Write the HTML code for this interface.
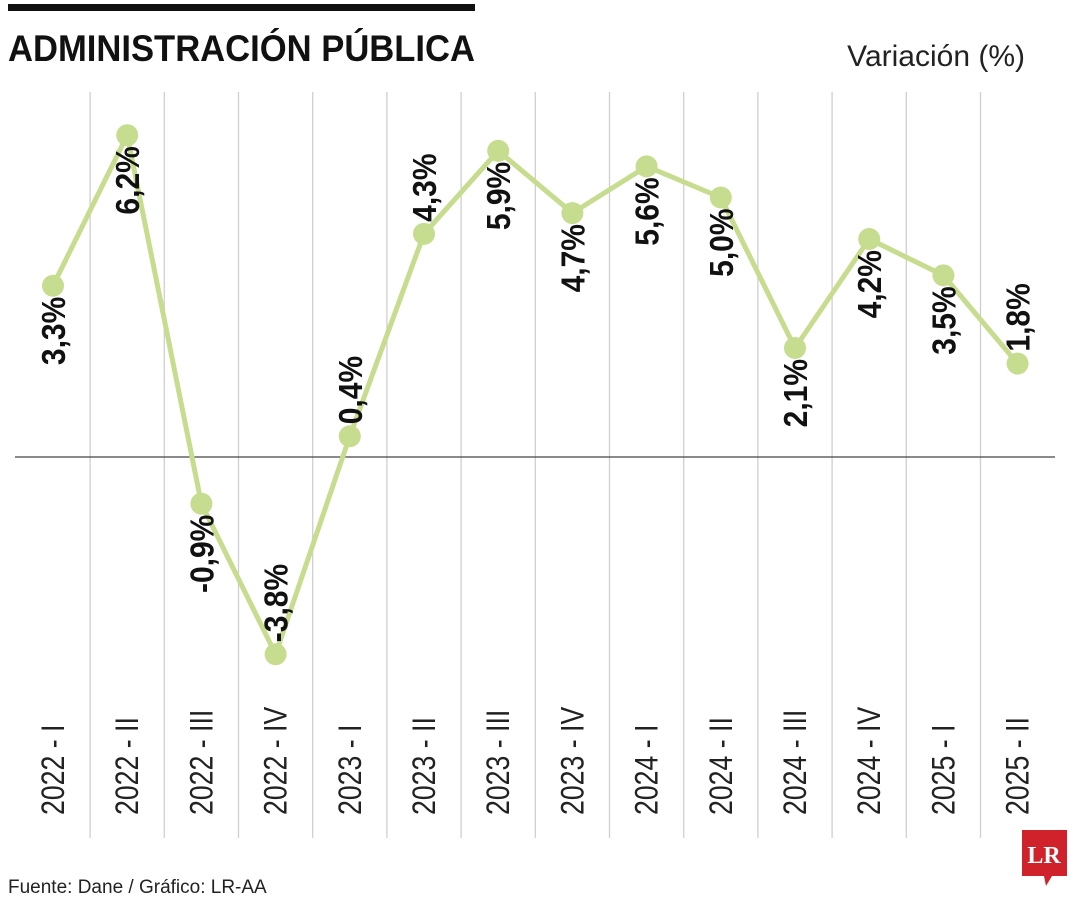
<!DOCTYPE html>
<html><head><meta charset="utf-8"><style>
body{margin:0;background:#fff;width:1080px;height:900px;overflow:hidden}
svg{display:block;font-family:"Liberation Sans Narrow","Liberation Sans",sans-serif}
</style></head><body>
<svg width="1080" height="900">
<rect x="8" y="4" width="467" height="7" fill="#111"/>
<text x="8" y="61" font-size="37" font-weight="bold" fill="#111" textLength="467" lengthAdjust="spacingAndGlyphs">ADMINISTRACIÓN PÚBLICA</text>
<text x="1025" y="66" font-size="30" fill="#222" text-anchor="end">Variación (%)</text>
<g id="grid"></g>
<g id="marks"></g>
<text x="8" y="893" font-size="19" fill="#222">Fuente: Dane / Gráfico: LR-AA</text>
<g>
<path d="M1022 830 H1067 V876 H1052 L1046 886 L1044 876 H1022 Z" fill="#d0222a"/>
<text x="1044" y="863" font-size="24" font-weight="bold" fill="#fff" text-anchor="middle" font-family="Liberation Serif,serif">LR</text>
</g>
</svg>
<script>
const categories=["2022 - I","2022 - II","2022 - III","2022 - IV","2023 - I","2023 - II","2023 - III","2023 - IV","2024 - I","2024 - II","2024 - III","2024 - IV","2025 - I","2025 - II"];
const values=[3.3,6.2,-0.9,-3.8,0.4,4.3,5.9,4.7,5.6,5.0,2.1,4.2,3.5,1.8];
const valueLabels=["3,3%","6,2%","-0,9%","-3,8%","0,4%","4,3%","5,9%","4,7%","5,6%","5,0%","2,1%","4,2%","3,5%","1,8%"];
const labelAbove=[false,false,false,true,true,true,false,false,false,false,false,false,false,true];
const NS="http://www.w3.org/2000/svg";
const x=i=>53+i*74.2;
const y=v=>457-v*51.9;
const grid=document.getElementById('grid'),marks=document.getElementById('marks');
function mk(tag,attrs,parent){const e=document.createElementNS(NS,tag);for(const k in attrs)e.setAttribute(k,attrs[k]);parent.appendChild(e);return e;}
for(let i=1;i<categories.length;i++){
 const l=mk('line',{x1:x(i)-37.1,x2:x(i)-37.1,y1:92,y2:838,stroke:'#cfcfcf','stroke-width':1.3},grid);
 
 
}
const z=mk('line',{x1:15,x2:1055,y1:y(0),y2:y(0),stroke:'#444','stroke-width':1.3},grid);


categories.forEach((c,i)=>{
 const t=mk('text',{transform:`translate(${x(i)+11},815) rotate(-90) scale(0.92,1.12)`,'font-size':29,fill:'#222'},grid);
 t.textContent=c;
 
 
});
const p=mk('polyline',{points:values.map((v,i)=>x(i)+','+y(v)).join(' '),fill:'none',stroke:'#c6dc8e','stroke-width':5,'stroke-linejoin':'round'},marks);


values.forEach((v,i)=>{
 const c=mk('circle',{cx:x(i),cy:y(v),r:11,fill:'#c6dc8e'},marks);
 
 
 const up=labelAbove[i];
 const ly=up?y(v)-12:y(v)+11;
 const t=mk('text',{transform:`translate(${x(i)+12},${ly}) rotate(-90) scale(1,1.1)`,'font-size':30,'font-weight':'bold',fill:'#111','text-anchor':up?'start':'end'},marks);
 t.textContent=valueLabels[i];
 
 
});
</script>
</body></html>
